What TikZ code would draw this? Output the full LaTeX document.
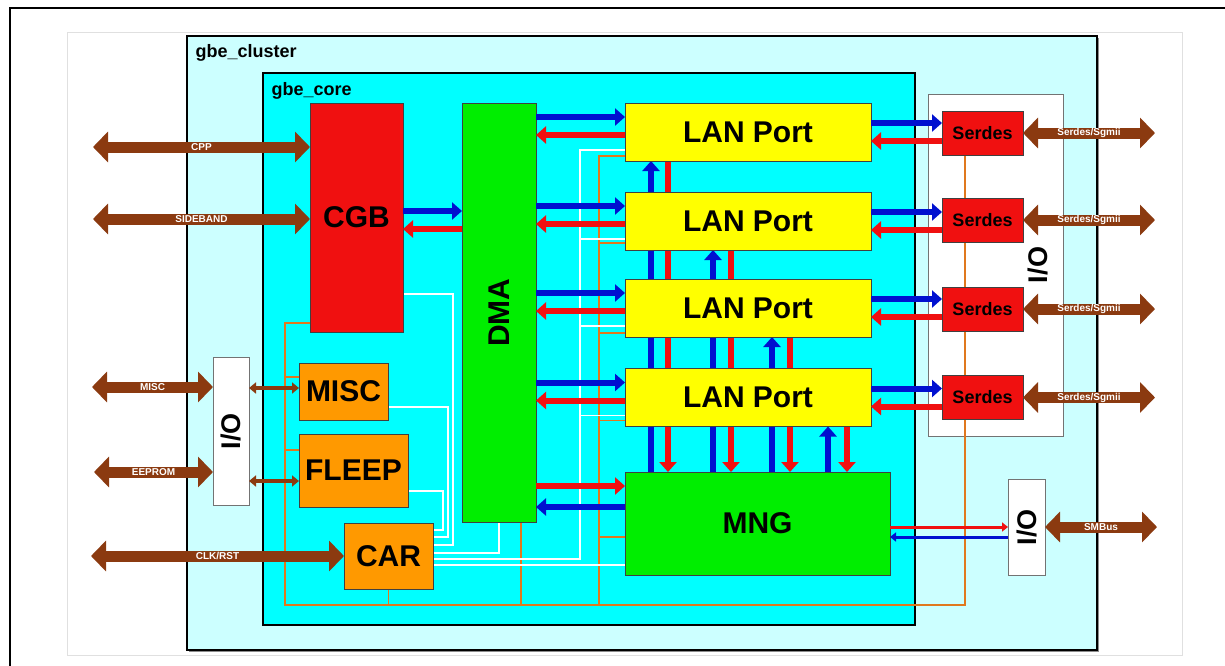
\documentclass[tikz,border=0pt]{standalone}
\usepackage{fontspec}
\setmainfont{Liberation Sans}
\usepackage{graphicx}
\usetikzlibrary{arrows.meta}
\pgfdeclarelayer{bg}
\pgfdeclarelayer{mid}
\pgfsetlayers{bg,mid,main}
\definecolor{brn}{HTML}{8B3A10}
\definecolor{red1}{HTML}{F01010}
\definecolor{blu}{HTML}{0010D0}
\definecolor{grn}{HTML}{00EE00}
\definecolor{yel}{HTML}{FFFF00}
\definecolor{org}{HTML}{FF9900}
\definecolor{orng}{HTML}{E0781E}
\definecolor{cyn}{HTML}{00FFFF}
\definecolor{lcyn}{HTML}{CCFFFF}
\begin{document}
\begin{tikzpicture}[x=1pt,y=-1pt,
	box/.style={draw=black!75,line width=0.8pt,inner sep=0pt,outer sep=0pt,
		font=\bfseries\fontsize{30}{30}\selectfont},
	lan/.style={box,fill=yel,minimum width=246,minimum height=58},
	ser/.style={box,fill=red1,minimum width=81,minimum height=44,
		font=\bfseries\fontsize{18}{18}\selectfont},
	io/.style={box,draw=black!55,fill=white,font=\bfseries\fontsize{27}{27}\selectfont},
	bus/.style={brn,line width=11pt,{Triangle[length=15pt,width=30pt]}-{Triangle[length=15pt,width=30pt]}},
	sbus/.style={brn,line width=3.5pt,{Triangle[length=7pt,width=11pt]}-{Triangle[length=7pt,width=11pt]}},
	lbl/.style={text=white,font=\bfseries\fontsize{10}{10}\selectfont},
	bluarr/.style={blu,line width=6pt,-{Triangle[length=10pt,width=17pt]}},
	redarr/.style={red1,line width=6pt,-{Triangle[length=10pt,width=17pt]}},
	thinb/.style={blu,line width=3pt,-{Triangle[length=6pt,width=9pt]}},
	thinr/.style={red1,line width=3pt,-{Triangle[length=6pt,width=9pt]}},
	orw/.style={orng,line width=1.6pt},
	whw/.style={white,line width=1.8pt}]
	\useasboundingbox (0,0) rectangle (1225,665);
	\begin{pgfonlayer}{bg}
		\draw[line width=1.5pt] (10,670)--(10,8)--(1230,8);
		\draw[black!12,fill=white] (67,32) rectangle (1182,655);
		\fill[black!45] (189,38) rectangle (1099,652);
		\draw[fill=lcyn,line width=1.5pt] (187,36) rectangle (1097,650);
		\draw[fill=cyn,line width=1.5pt] (263,73) rectangle (915,625);
		\node[anchor=base west,font=\bfseries\fontsize{18}{18}\selectfont] (cltxt) at (192,57) {gbe\_cluster};
		\node[anchor=base west,font=\bfseries\fontsize{18}{18}\selectfont] (cotxt) at (268,95) {gbe\_core};
	\end{pgfonlayer}
	% blocks
	\node[box,fill=red1,minimum width=93,minimum height=229] (cgb) at (356.5,217.5) {CGB};
	\node[box,fill=grn,minimum width=74,minimum height=419] (dma) at (499,312.5) {\rotatebox{90}{DMA}};
	\node[lan] (lan1) at (748,132) {LAN Port};
	\node[lan] (lan2) at (748,221) {LAN Port};
	\node[lan] (lan3) at (748,308) {LAN Port};
	\node[lan] (lan4) at (748,397.5) {LAN Port};
	\node[box,fill=grn,minimum width=265,minimum height=103] (mng) at (757.5,523.5) {MNG};
	\node[box,fill=org,minimum width=89,minimum height=57] (misc) at (343.5,391.5) {MISC};
	\node[box,fill=org,minimum width=109,minimum height=73] (fleep) at (353.5,470.5) {FLEEP};
	\node[box,fill=org,minimum width=89,minimum height=66] (car) at (388.5,556) {CAR};
	\node[ser] (ser1) at (982.5,133) {Serdes};
	\node[ser] (ser2) at (982.5,220) {Serdes};
	\node[ser] (ser3) at (982.5,309) {Serdes};
	\node[ser] (ser4) at (982.5,397.5) {Serdes};
	\node[io,minimum width=36,minimum height=148] (ioL) at (231,431) {\rotatebox{90}{I/O}};
	\node[io,minimum width=37,minimum height=96] (ioM) at (1026.5,527) {\rotatebox{90}{I/O}};
	% wires behind the blocks
	\begin{pgfonlayer}{mid}
		\node[io,minimum width=135,minimum height=342] (ioser) at (995.5,265) {};
		\node[font=\bfseries\fontsize{27}{27}\selectfont] (iosertxt) at (1038,265) {\rotatebox{90}{I/O}};
		\coordinate (wbl) at (285,605);
		\coordinate (wlan) at (599,605);
		\draw[orw] ([yshift=9pt]cgb.south west) -| (wbl) -| ([xshift=-17.5pt]ser1.south);
		\draw[orw] ([yshift=14.5pt]misc.west -| wbl) -- ([yshift=14.5pt]misc.west);
		\draw[orw] ([yshift=20.5pt]fleep.west -| wbl) -- ([yshift=20.5pt]fleep.west);
		\draw[orw] (car.south) -- (car.south |- wbl);
		\draw[orw] ([xshift=22pt]dma.south) -- ([xshift=22pt]dma.south |- wbl);
		\draw[orw] ([yshift=5pt]lan1.south west) -| (wlan);
		\draw[orw] ([yshift=7pt]lan2.south west) -- ([yshift=7pt]lan2.south west -| wlan);
		\draw[orw] ([yshift=4pt]lan3.south west) -- ([yshift=4pt]lan3.south west -| wlan);
		\draw[orw] ([yshift=6pt]lan4.south west) -- ([yshift=6pt]lan4.south west -| wlan);
		\draw[orw] ([yshift=38pt]mng.south west) -- ([yshift=38pt]mng.south west -| wlan);
		\draw[whw] ([yshift=38pt]cgb.south east) -| ([xshift=20pt,yshift=11pt]car.east) -- ([yshift=11pt]car.east);
		\draw[whw] ([yshift=-15.5pt]misc.east) -| ([xshift=15pt,yshift=19pt]car.east) -- ([yshift=19pt]car.east);
		\draw[whw] ([yshift=-20.5pt]fleep.east) -| ([xshift=10pt,yshift=26pt]car.east) -- ([yshift=26pt]car.east);
		\draw[whw] ([yshift=3pt]car.east) -| (dma.south);
		\draw[whw] ([yshift=-3pt]car.east) -| ([xshift=-45pt,yshift=-18pt]lan1.west) -- ([yshift=-18pt]lan1.west);
		\draw[whw] ([xshift=-45pt,yshift=-18pt]lan2.west) -- ([yshift=-18pt]lan2.west);
		\draw[whw] ([xshift=-45pt,yshift=-18pt]lan3.west) -- ([yshift=-18pt]lan3.west);
		\draw[whw] ([xshift=-45pt,yshift=-18pt]lan4.west) -- ([yshift=-18pt]lan4.west);
		\draw[whw] ([yshift=-9pt]car.east) -- ([yshift=-9pt]car.east -| mng.west);
		\foreach \i/\b/\r in {1/26/43,2/88/106,3/147/165,4/203/222}{
			\draw[bluarr] ([xshift=\b pt]lan\i.south west |- mng.north) -- ([xshift=\b pt]lan\i.south west);
			\draw[redarr] ([xshift=\r pt]lan\i.south west) -- ([xshift=\r pt]lan\i.south west |- mng.north);
		}
	\end{pgfonlayer}
	% data paths
	\draw[bluarr] ([yshift=6.5pt]cgb.east) -- ([yshift=6.5pt]cgb.east -| dma.west);
	\draw[redarr] ([yshift=-11.5pt]cgb.east -| dma.west) -- ([yshift=-11.5pt]cgb.east);
	\foreach \i in {1,...,4}{
		\draw[bluarr] ([yshift=15pt]lan\i.west -| dma.east) -- ([yshift=15pt]lan\i.west);
		\draw[redarr] ([yshift=-3pt]lan\i.west) -- ([yshift=-3pt]lan\i.west -| dma.east);
		\draw[bluarr] ([yshift=9pt]lan\i.east) -- ([yshift=9pt]lan\i.east -| ser\i.west);
		\draw[redarr] ([yshift=-9pt]lan\i.east -| ser\i.west) -- ([yshift=-9pt]lan\i.east);
	}
	\draw[redarr] ([yshift=-14pt]mng.north west -| dma.east) -- ([yshift=-14pt]mng.north west);
	\draw[bluarr] ([yshift=-35pt]mng.north west) -- ([yshift=-35pt]mng.north west -| dma.east);
	\draw[thinr] (ioM.west -| mng.east) -- (ioM.west);
	\draw[thinb] ([yshift=-10pt]ioM.west) -- ([yshift=-10pt]ioM.west -| mng.east);
	\draw[sbus] ([yshift=3.5pt]misc.west -| ioL.east) -- ([yshift=3.5pt]misc.west);
	\draw[sbus] ([yshift=-10.5pt]fleep.west -| ioL.east) -- ([yshift=-10.5pt]fleep.west);
	% external buses
	\coordinate (cppL) at (93,147);
	\coordinate (sbL) at (93,219);
	\coordinate (miscL) at (92,387);
	\coordinate (eepL) at (94,472);
	\coordinate (clkL) at (91,556);
	\coordinate (sgR) at (1155,0);
	\coordinate (smbR) at (1157,527);
	\draw[bus] (cppL) -- (cppL -| cgb.west) node[lbl,midway] {CPP};
	\draw[bus] (sbL) -- (sbL -| cgb.west) node[lbl,midway] {SIDEBAND};
	\draw[bus] (miscL) -- (miscL -| ioL.west) node[lbl,midway] {MISC};
	\draw[bus] (eepL) -- (eepL -| ioL.west) node[lbl,midway] {EEPROM};
	\draw[bus] (clkL) -- (car.west) node[lbl,midway] {CLK/RST};
	\foreach \i in {1,...,4}
		\draw[bus] (ser\i.east) -- (ser\i.east -| sgR) node[lbl,midway] {Serdes/Sgmii};
	\draw[bus] (ioM.east) -- (smbR) node[lbl,midway] {SMBus};
\end{tikzpicture}
\end{document}
